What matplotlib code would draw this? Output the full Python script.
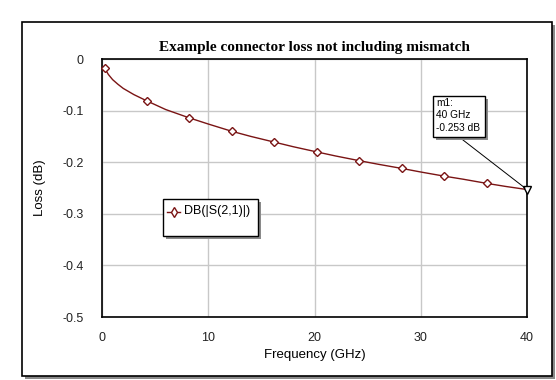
import matplotlib
matplotlib.use("Agg")
import matplotlib.pyplot as plt
from matplotlib.patches import Rectangle

# curve samples (GHz, dB)
freq = [0.25, 0.6, 1.0, 1.5, 2.0, 3.0, 4.2, 6.0, 8.2, 10.0, 12.2, 14.0, 16.2, 18.0,
        20.2, 22.0, 24.2, 26.0, 28.2, 30.0, 32.2, 34.0, 36.2, 38.0, 40.0]
loss = [-0.018, -0.030, -0.040, -0.049, -0.057, -0.069, -0.081, -0.098, -0.114, -0.126,
        -0.140, -0.150, -0.161, -0.170, -0.180, -0.188, -0.197, -0.204, -0.212, -0.219,
        -0.227, -0.233, -0.241, -0.247, -0.253]
marker_idx = [0, 6, 8, 10, 12, 14, 16, 18, 20, 22]
series_name = "DB(|S(2,1)|)"
m1_freq, m1_loss = 40.0, -0.253
xticks = [0, 10, 20, 30, 40]
yticks = [0, -0.1, -0.2, -0.3, -0.4, -0.5]

plt.rcParams["font.family"] = ["Liberation Sans", "DejaVu Sans"]

W, H = 556, 380
fig = plt.figure(figsize=(W / 100, H / 100), dpi=100)
fig.patch.set_facecolor("white")

def fx(px):
    return px / W

def fy(py):
    return 1 - py / H

# outer frame with drop shadow
fig.patches.append(Rectangle((fx(25), fy(379)), fx(530), fy(22) - fy(376),
                             transform=fig.transFigure, facecolor="#8a8a8a",
                             edgecolor="none", zorder=0))
fig.patches.append(Rectangle((fx(22), fy(376)), fx(530), fy(22) - fy(376),
                             transform=fig.transFigure, facecolor="white",
                             edgecolor="black", linewidth=1.2, zorder=1))

ax = fig.add_axes([fx(102), fy(317), fx(527) - fx(102), fy(59) - fy(317)])
ax.set_zorder(2)
red = "#7a1414"
ax.plot(freq, loss, color=red, linewidth=1.0, marker="D", markevery=marker_idx,
        markersize=4.5, markerfacecolor="white", markeredgecolor=red, markeredgewidth=1.0,
        label=series_name, clip_on=False, zorder=3)
ax.plot([m1_freq], [m1_loss], marker="v", markersize=6, markerfacecolor="white",
        markeredgecolor="black", clip_on=False, zorder=4)

ax.set_xlim(0, 40)
ax.set_ylim(-0.5, 0)
ax.set_xticks(xticks)
ax.set_yticks(yticks)
ax.set_yticklabels(["0", "-0.1", "-0.2", "-0.3", "-0.4", "-0.5"])
ax.tick_params(length=0, labelsize=9, colors="#222222")
ax.tick_params(axis="x", pad=11)
ax.tick_params(axis="y", pad=13)
ax.grid(True, color="#c8c8c8", linewidth=1.0)
ax.set_axisbelow(True)
for s in ax.spines.values():
    s.set_linewidth(1.2)
ax.set_xlabel("Frequency (GHz)", fontsize=9.5)
ax.set_ylabel("Loss (dB)", fontsize=9.5)
ax.xaxis.set_label_coords(0.5, -(355 - 317) / 258, transform=ax.transAxes)
ax.xaxis.label.set_va("center")
ax.yaxis.set_label_coords(-(102 - 40) / 425, 0.5, transform=ax.transAxes)
ax.yaxis.label.set_va("center")
ax.set_title("Example connector loss not including mismatch", fontsize=11,
             fontweight="bold", family="Liberation Serif", pad=6)

# legend box with shadow
lx0, ly0, lx1, ly1 = 163, 199, 258, 236
fig.patches.append(Rectangle((fx(lx0 + 3), fy(ly1 + 3)), fx(lx1 - lx0), fy(ly0) - fy(ly1),
                             transform=fig.transFigure, facecolor="#8a8a8a",
                             edgecolor="none", zorder=5))
fig.patches.append(Rectangle((fx(lx0), fy(ly1)), fx(lx1 - lx0), fy(ly0) - fy(ly1),
                             transform=fig.transFigure, facecolor="white",
                             edgecolor="black", linewidth=1.0, zorder=6))
fig.add_artist(plt.Line2D([fx(167), fx(180)], [fy(212), fy(212)], color=red,
                          linewidth=1.0, zorder=7))
fig.add_artist(plt.Line2D([fx(173.5)], [fy(212)], color=red, marker="d", markersize=5,
                          markerfacecolor="white", linestyle="none", zorder=7))
fig.text(fx(184), fy(211), series_name, fontsize=9, va="center", ha="left", zorder=7)

# marker annotation box
bx0, by0, bx1, by1 = 433, 96, 485, 137
fig.add_artist(plt.Line2D([fx(463), fx(525)], [fy(140), fy(188)], color="black",
                          linewidth=0.7, zorder=5))
fig.patches.append(Rectangle((fx(bx0 + 3), fy(by1 + 3)), fx(bx1 - bx0), fy(by0) - fy(by1),
                             transform=fig.transFigure, facecolor="#8a8a8a",
                             edgecolor="none", zorder=5))
fig.patches.append(Rectangle((fx(bx0), fy(by1)), fx(bx1 - bx0), fy(by0) - fy(by1),
                             transform=fig.transFigure, facecolor="white",
                             edgecolor="black", linewidth=1.0, zorder=6))
fig.text(fx(436), fy(98), "m1:\n%g GHz\n%.3f dB" % (m1_freq, m1_loss), fontsize=7.3,
         va="top", ha="left", linespacing=1.3, zorder=7)

fig.savefig("out.png", dpi=100, facecolor="white")
